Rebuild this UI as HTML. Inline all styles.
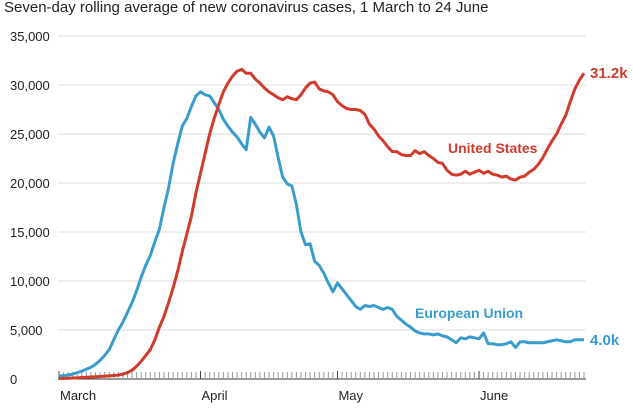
<!DOCTYPE html>
<html><head><meta charset="utf-8"><style>
body{margin:0;background:#fff;font-family:"Liberation Sans",sans-serif}
svg{display:block}
</style></head><body>
<svg id="chart" width="633" height="409">
<text x="4" y="12" font-size="15" fill="#222">Seven-day rolling average of new coronavirus cases, 1 March to 24 June</text>
<g id="grid"></g><g id="ticks"></g><g id="lines"></g>
</svg>
<script>
const yTicks=[0,5000,10000,15000,20000,25000,30000,35000];
const monthLabels=["March","April","May","June"];
const monthDays=[0,31,61,92];
const euValues=[300,350,400,500,650,800,1000,1200,1500,1900,2400,3000,4000,5000,5800,6800,7800,9000,10400,11600,12600,14000,15300,17500,19500,22000,24000,25800,26600,27800,28900,29300,29000,28900,28200,27500,26500,25800,25200,24700,24000,23400,26700,26000,25200,24600,25700,24800,22600,20600,19900,19700,17800,15000,13700,13800,12000,11600,10800,9800,8900,9800,9200,8600,8000,7400,7100,7500,7400,7500,7300,7100,7300,7100,6400,6000,5600,5300,4900,4700,4600,4600,4500,4600,4400,4300,4000,3700,4200,4100,4300,4200,4100,4700,3600,3600,3500,3500,3600,3800,3200,3800,3800,3700,3700,3700,3700,3800,3900,4000,3900,3800,3800,4000,4000,4000];
const usValues=[50,60,80,100,120,150,180,200,230,260,290,320,360,400,500,650,900,1300,1800,2400,3000,4000,5300,6400,7800,9300,11000,13000,14800,16600,19000,21000,23000,25000,26600,28000,29300,30200,30900,31400,31600,31200,31200,30600,30200,29700,29300,29000,28700,28500,28800,28600,28500,29000,29700,30200,30300,29600,29400,29300,29000,28300,27900,27600,27500,27500,27400,27000,26000,25500,24800,24300,23700,23200,23200,22900,22800,22800,23300,23000,23200,22800,22500,22100,22000,21300,20900,20800,20900,21200,20900,21100,21300,21000,21200,20900,20800,20600,20700,20400,20300,20600,20700,21100,21400,21900,22600,23500,24300,25000,26000,26900,28300,29600,30500,31200];
const NS="http://www.w3.org/2000/svg";
const x0=59,x1=584,yTop=36,yBot=379,yMax=35000,nDays=116;
const xs=d=>x0+(x1-x0)*d/(nDays-1);
const ys=v=>yBot-(yBot-yTop)*v/yMax;
function mk(tag,attrs,parent){const e=document.createElementNS(NS,tag);for(const k in attrs)e.setAttribute(k,attrs[k]);parent.appendChild(e);return e;}
const grid=document.getElementById('grid'),ticks=document.getElementById('ticks'),lines=document.getElementById('lines');
yTicks.forEach(v=>{
 if(v>0){const l=mk('line',{x1:58,x2:586,y1:ys(v),y2:ys(v),stroke:'#dcdcdc','stroke-width':1},grid);
 
 }
 const t=mk('text',{x:10,y:ys(v)+5,'font-size':13,fill:'#222'},grid);
 t.textContent=v.toLocaleString('en-US');
 
 
});
const ax=mk('line',{x1:58,x2:586,y1:yBot,y2:yBot,stroke:'#333','stroke-width':1},ticks);


for(let d=0;d<nDays;d++){const major=monthDays.includes(d);
 const tk=mk('line',{x1:xs(d),x2:xs(d),y1:yBot-(major?8:7),y2:yBot,stroke:major?'#444':'#999','stroke-width':1},ticks);
 
 }
monthLabels.forEach((m,i)=>{const t=mk('text',{x:xs(monthDays[i])+1,y:400,'font-size':13,fill:'#222'},ticks);
 t.textContent=m;
 
 });
function series(vals,color,name){
 const p=mk('polyline',{points:vals.map((v,i)=>xs(i)+','+ys(v)).join(' '),fill:'none',stroke:color,'stroke-width':3,'stroke-linejoin':'round'},lines);
 
 }
series(euValues,'#3a9ccc','eu-line');
series(usValues,'#cf3b2c','us-line');
function lbl(x,y,txt,color,name,size){const t=mk('text',{x:x,y:y,'font-size':size,'font-weight':'bold',fill:color},lines);
 t.textContent=txt;
 
 }
lbl(448,153,'United States','#cf3b2c','us-label',14);
lbl(415,318,'European Union','#3a9ccc','eu-label',14);
const last=nDays-1;
lbl(590,ys(usValues[last])+5,(usValues[last]/1000).toFixed(1)+'k','#cf3b2c','us-end-value',15);
lbl(590,ys(euValues[last])+5,(euValues[last]/1000).toFixed(1)+'k','#3a9ccc','eu-end-value',15);
</script>
</body></html>
